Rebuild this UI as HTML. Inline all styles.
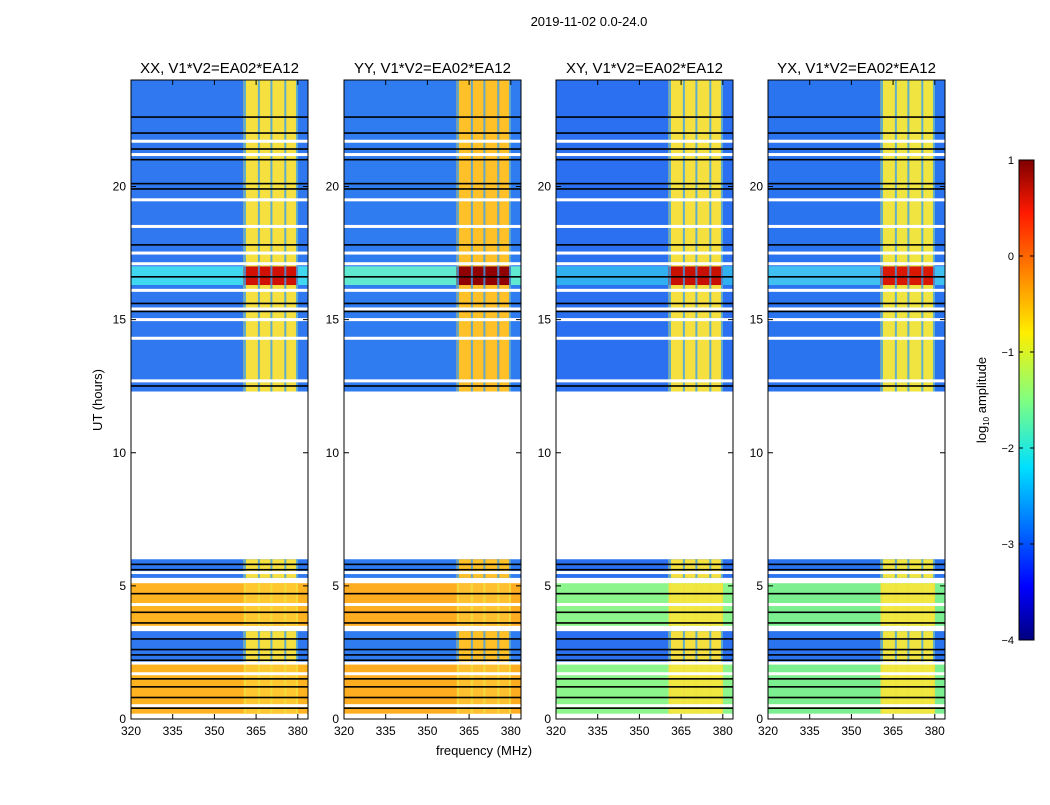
<!DOCTYPE html>
<html><head><meta charset="utf-8"><style>
body{margin:0;background:#fff;}
svg text{font-family:"Liberation Sans",sans-serif;fill:#000;}
</style></head><body>
<svg id="c" width="1050" height="800" xmlns="http://www.w3.org/2000/svg">
<defs>
<linearGradient id="jet" x1="0" y1="1" x2="0" y2="0">
<stop offset="0" stop-color="#00007f"/><stop offset="0.11" stop-color="#0000ff"/>
<stop offset="0.36" stop-color="#00e0ff"/><stop offset="0.5" stop-color="#80ff80"/>
<stop offset="0.64" stop-color="#ffee00"/><stop offset="0.89" stop-color="#ff1a00"/>
<stop offset="1" stop-color="#7f0000"/></linearGradient>
</defs>
<text x="589" y="26" font-size="13" text-anchor="middle">2019-11-02 0.0-24.0</text>
<text x="484" y="755" font-size="13" text-anchor="middle">frequency (MHz)</text>
<text transform="translate(102,400) rotate(-90)" font-size="13" text-anchor="middle">UT (hours)</text>
<g id="panels"></g>
<g>
<rect x="1019" y="160" width="15" height="480" fill="url(#jet)" stroke="#000"/>
<g id="cbt"></g>
<text transform="translate(986,400) rotate(-90)" font-size="13" text-anchor="middle">log<tspan font-size="8" dy="3">10</tspan><tspan dy="-3"> amplitude</tspan></text>
</g>
</svg>
<script>
const panelTitles=["XX, V1*V2=EA02*EA12","YY, V1*V2=EA02*EA12","XY, V1*V2=EA02*EA12","YX, V1*V2=EA02*EA12"];
const panelX=[131,344,556,768];
const xTicks=[320,335,350,365,380];
const yTicks=[0,5,10,15,20];
const cbTicks=[1,0,-1,-2,-3,-4];
// time segments [startHour,endHour,kind]
const segStart=[0.2,2.1,3.5,5.3,12.3,12.6,16.3,17.0,21.0];
const segEnd=[2.1,3.3,5.1,6.0,12.6,16.3,17.0,21.0,24.0];
const segKind=["auto","noise","auto","noise","noise","noise","bright","noise","noise"];
const bgAuto=["#ffb320","#ffad20","#8cf58c","#7cf090"];
const bandAuto=["#ffc830","#ffc030","#f0e840","#f0e840"];
const bgNoise=["#2f78f0","#2e7cf0","#2a70f0","#2a74f0"];
const bandNoise=["#f5e040","#ffc028","#f5e040","#f0e440"];
const bgBright=["#40d8f0","#60e8d0","#30b0f0","#40c0f0"];
const bandBright=["#d01000","#900000","#c81000","#d81800"];
const bandLo=360.5, bandHi=380;
const dipFreq=[361,366,370.5,375.5,379.7];
const blackLines=[0.4,0.8,1.2,1.5,2.2,2.4,2.6,3.0,4.7,4.0,3.6,5.6,5.8,12.5,15.3,15.6,16.6,17.8,19.9,20.1,21.0,21.4,22.0,22.6];
const whiteLines=[0.5,1.7,2.1,3.4,4.3,5.2,5.5,12.7,14.3,15.0,15.4,16.1,17.1,17.5,18.5,19.5,21.2,21.7];

const G=document.getElementById('panels');
const NS="http://www.w3.org/2000/svg";
const yTop=80,yBot=719,pw=177;
const fx=(p,f)=>panelX[p]+(f-320)*2.78;
const hy=h=>yBot-h*(yBot-yTop)/24;
function mk(tag,attrs,parent){const e=document.createElementNS(NS,tag);for(const k in attrs)e.setAttribute(k,attrs[k]);parent.appendChild(e);return e;}
for(let p=0;p<4;p++){
  const g=mk('g',{},G);
  
  
  const x0=panelX[p],x1=x0+pw;
  for(let i=0;i<segStart.length;i++){
    const k=segKind[i];
    const bg=k=="auto"?bgAuto[p]:k=="bright"?bgBright[p]:bgNoise[p];
    const bd=k=="auto"?bandAuto[p]:k=="bright"?bandBright[p]:bandNoise[p];
    const y1=hy(segEnd[i]),y2=hy(segStart[i]);
    const r=mk('rect',{x:x0,y:y1,width:pw,height:y2-y1,fill:bg},g);
    
    
    const b=mk('rect',{x:fx(p,bandLo),y:y1,width:fx(p,bandHi)-fx(p,bandLo),height:y2-y1,fill:bd},g);
    
    
    for(const d of dipFreq){
      const dl=mk('rect',{x:fx(p,d)-1,y:y1,width:2,height:y2-y1,fill:k=="auto"?"#f0e040":"#3aa0f0",opacity:0.8},g);
      
      
    }
  }
  for(const h of whiteLines){const l=mk('rect',{x:x0,y:hy(h)-1.5,width:pw,height:3,fill:"#fff"},g);
    
    }
  for(const h of blackLines){const l=mk('rect',{x:x0,y:hy(h)-1,width:pw,height:1.6,fill:"#000"},g);
    
    }
  mk('rect',{x:x0,y:yTop,width:pw,height:yBot-yTop,fill:"none",stroke:"#000","stroke-width":1},g);
  const t=mk('text',{x:x0+pw/2,y:yTop-7,"font-size":15,"text-anchor":"middle"},g);t.textContent=panelTitles[p];
  
  
  for(const f of xTicks){const x=fx(p,f);
    mk('line',{x1:x,x2:x,y1:yBot,y2:yBot-5,stroke:"#000"},g);mk('line',{x1:x,x2:x,y1:yTop,y2:yTop+5,stroke:"#000"},g);
    const tt=mk('text',{x:x,y:yBot+16,"font-size":12,"text-anchor":"middle"},g);tt.textContent=f;
    
    }
  for(const h of yTicks){const y=hy(h);
    mk('line',{x1:x0,x2:x0+5,y1:y,y2:y,stroke:"#000"},g);mk('line',{x1:x1,x2:x1-5,y1:y,y2:y,stroke:"#000"},g);
    const tt=mk('text',{x:x0-5,y:y+4,"font-size":12,"text-anchor":"end"},g);tt.textContent=h;
    
    }
}
const C=document.getElementById('cbt');
for(const v of cbTicks){const y=640-(v+4)*96;
  mk('line',{x1:1019,x2:1023,y1:y,y2:y,stroke:"#000"},C);mk('line',{x1:1034,x2:1030,y1:y,y2:y,stroke:"#000"},C);
  const t=mk('text',{x:1014,y:y+4,"font-size":11,"text-anchor":"end"},C);t.textContent=v<0?"\u2212"+(-v):v;
  
  }
</script>
</body></html>
